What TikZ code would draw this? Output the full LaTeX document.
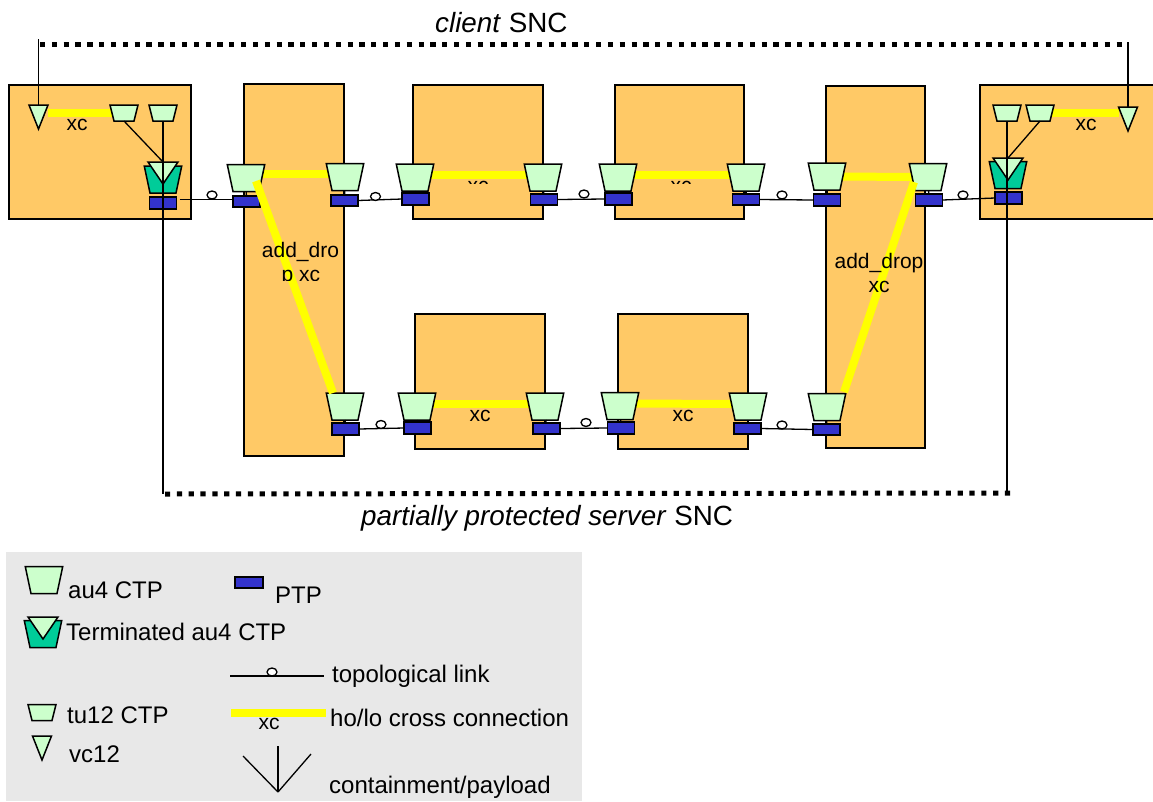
\documentclass[tikz,border=0pt]{standalone}
\usepackage{fontspec}
\setmainfont{Liberation Sans}
\usetikzlibrary{shapes.geometric}
\pgfdeclarelayer{boxes}
\pgfdeclarelayer{xcs}
\pgfsetlayers{boxes,xcs,main}
\definecolor{neorange}{HTML}{FFC966}
\definecolor{ctpgreen}{HTML}{CCFFCC}
\definecolor{termteal}{HTML}{00CC99}
\definecolor{ptpblue}{HTML}{3333CC}
\definecolor{xcyellow}{RGB}{255,255,0}
\definecolor{legendgrey}{HTML}{E8E8E8}
\tikzset{
    nebox/.style={draw, fill=neorange, line width=1.5pt, inner sep=0pt, outer sep=0pt},
    ctpshape/.style={draw, trapezium, shape border rotate=180, line width=1.5pt, outer sep=0pt},
    au4ctp/.style={ctpshape, fill=ctpgreen, trapezium left angle=78, trapezium right angle=78, inner xsep=13pt, inner ysep=13.5pt},
    termctp/.style={au4ctp, fill=termteal},
    tu12ctp/.style={ctpshape, fill=ctpgreen, trapezium left angle=76, trapezium right angle=76, inner xsep=10pt, inner ysep=8pt},
    vc12/.style={draw, fill=ctpgreen, isosceles triangle, shape border rotate=270, isosceles triangle stretches=true, anchor=apex, line width=1.5pt, inner sep=0pt, outer sep=0pt, minimum width=19pt, minimum height=24pt},
    termvc/.style={vc12, minimum width=30pt, minimum height=22pt},
    ptp/.style={draw, fill=ptpblue, line width=1.6pt, inner sep=0pt, outer sep=0pt, minimum width=27pt, minimum height=11.5pt},
    linkdot/.style={draw, fill=white, ellipse, line width=1.3pt, inner sep=0pt, minimum width=10pt, minimum height=8pt},
    toplink/.style={line width=1.3pt},
    contain/.style={line width=1.3pt},
    xcline/.style={xcyellow, line width=8pt},
    sncline/.style={line width=5pt, dash pattern=on 5.2pt off 6.63pt},
    boxtext/.style={font=\fontsize{21}{24}\selectfont, anchor=base, inner sep=0pt},
    legendtext/.style={font=\fontsize{24}{28}\selectfont, anchor=base west, inner sep=0pt},
    snctext/.style={font=\fontsize{27.8}{32}\selectfont, anchor=base west, inner sep=0pt},
}
\begin{document}
\begin{tikzpicture}[x=1pt, y=-1pt]
    \useasboundingbox (0,0) rectangle (1153,801);
    \begin{pgfonlayer}{boxes}
        \node[nebox, minimum width=182pt, minimum height=134pt] (neleft) at (100,152) {};
        \node[nebox, minimum width=100pt, minimum height=372pt] (adda) at (294,270) {};
        \node[nebox, minimum width=130pt, minimum height=134pt] (nebt) at (478,152) {};
        \node[nebox, minimum width=129pt, minimum height=134pt] (nect) at (679.5,152) {};
        \node[nebox, minimum width=99pt, minimum height=362pt] (addb) at (875.5,267) {};
        \node[nebox, minimum width=190pt, minimum height=134pt] (neright) at (1075,152) {};
        \node[nebox, minimum width=130pt, minimum height=135pt] (nebb) at (480,381.5) {};
        \node[nebox, minimum width=130pt, minimum height=135pt] (necb) at (683,381.5) {};
    \end{pgfonlayer}
    % left network element
    \node[vc12] (vcl) at (38.5,129) {};
    \node[tu12ctp] (tul) at (124,113) {};
    \node[tu12ctp] (tum) at (163,113) {};
    \node[termctp] (ctpl) at (163,179.5) {};
    \node[termvc] (vctl) at (163,184) {};
    \node[ptp] (ptpl) at (163,203) {};
    % right network element
    \node[vc12] (vcr) at (1128,131) {};
    \node[tu12ctp] (tur) at (1040,113) {};
    \node[tu12ctp] (tun) at (1007,113) {};
    \node[termctp] (ctpr) at (1008,175) {};
    \node[termvc] (vctr) at (1008,180) {};
    \node[ptp] (ptpr) at (1008.5,198) {};
    % upper row
    \node[au4ctp] (ctpa) at (246,178) {};
    \node[ptp] (ptpa) at (246.5,201.5) {};
    \node[au4ctp] (ctpb) at (345,177) {};
    \node[ptp] (ptpb) at (344.5,200.5) {};
    \node[au4ctp] (ctpc) at (415,177.5) {};
    \node[ptp] (ptpc) at (415.5,199) {};
    \node[au4ctp] (ctpd) at (543,177.5) {};
    \node[ptp] (ptpd) at (544,199.5) {};
    \node[au4ctp] (ctpe) at (618,177.5) {};
    \node[ptp] (ptpe) at (618.5,199) {};
    \node[au4ctp] (ctpf) at (746,177.5) {};
    \node[ptp] (ptpf) at (746,199.5) {};
    \node[au4ctp] (ctpg) at (827,176.5) {};
    \node[ptp] (ptph) at (827,200) {};
    \node[au4ctp] (ctpi) at (928,177) {};
    \node[ptp] (ptpi) at (929,200) {};
    % lower row
    \node[au4ctp] (ctpj) at (345,406.5) {};
    \node[ptp] (ptpj) at (345.5,429) {};
    \node[au4ctp] (ctpk) at (417,406.5) {};
    \node[ptp] (ptpk) at (417.5,428) {};
    \node[au4ctp] (ctpm) at (545,406.5) {};
    \node[ptp] (ptpm) at (546.5,428.5) {};
    \node[au4ctp] (ctpn) at (620,406) {};
    \node[ptp] (ptpn) at (621,428) {};
    \node[au4ctp] (ctpo) at (748,406.5) {};
    \node[ptp] (ptpo) at (747.5,428.5) {};
    \node[au4ctp] (ctpq) at (827,407) {};
    \node[ptp] (ptpq) at (826.5,429.5) {};
    % free ends
    \coordinate (clia) at (40,44);
    \coordinate (clib) at (1126,44);
    \coordinate (vtopl) at (38.5,39);
    \coordinate (vtopr) at (1128,42);
    \coordinate (srva) at (165,494);
    \coordinate (srvb) at (1010,493);
    \coordinate (dropa) at (256,181);
    \coordinate (dropb) at (333,393);
    \coordinate (dropc) at (914,182);
    \coordinate (dropd) at (844,392);
    % cross connections
    \begin{pgfonlayer}{xcs}
        \draw[xcline] (vcl.left corner |- tul.center) -- (tul.center);
        \draw[xcline] (tur.center) -- (vcr.right corner |- tur.center);
        \draw[xcline] ([yshift=4pt]ctpa.center) -- ([yshift=3pt]ctpb.center);
        \draw[xcline] ([yshift=2.5pt]ctpc.center) -- ([yshift=2.5pt]ctpd.center);
        \draw[xcline] ([yshift=2.5pt]ctpe.center) -- ([yshift=2.5pt]ctpf.center);
        \draw[xcline] (ctpg.center) -- (ctpi.center);
        \draw[xcline] ([yshift=2.5pt]ctpk.center) -- ([yshift=2.5pt]ctpm.center);
        \draw[xcline] ([yshift=2.5pt]ctpn.center) -- ([yshift=2.5pt]ctpo.center);
    \end{pgfonlayer}
    \draw[xcline] (dropa) -- (dropb);
    \draw[xcline] (dropc) -- (dropd);
    % topological links
    \draw[toplink, shorten <=3pt] ([yshift=3.5pt]ptpl.east) -- ([yshift=2pt]ptpa.west);
    \draw[toplink] (ptpb.east) -- (ptpc.west);
    \draw[toplink] (ptpd.east) -- (ptpe.west);
    \draw[toplink] (ptpf.east) -- (ptph.west);
    \draw[toplink] (ptpi.east) -- (ptpr.west);
    \draw[toplink] (ptpj.east) -- (ptpk.west);
    \draw[toplink] (ptpm.east) -- (ptpn.west);
    \draw[toplink] (ptpo.east) -- (ptpq.west);
    \node[linkdot] (dota) at (212,195) {};
    \node[linkdot] (dotb) at (375.5,196.5) {};
    \node[linkdot] (dotc) at (584,194) {};
    \node[linkdot] (dotd) at (782,195) {};
    \node[linkdot] (dote) at (963,195) {};
    \node[linkdot] (dotf) at (381,424.5) {};
    \node[linkdot] (dotg) at (586,422.5) {};
    \node[linkdot] (doth) at (782,425) {};
    % containment
    \draw[contain] (ctpa) -- (ptpa);
    \draw[contain] (ctpb) -- (ptpb);
    \draw[contain] (ctpc) -- (ptpc);
    \draw[contain] (ctpd) -- (ptpd);
    \draw[contain] (ctpe) -- (ptpe);
    \draw[contain] (ctpf) -- (ptpf);
    \draw[contain] (ctpg) -- (ptph);
    \draw[contain] (ctpi) -- (ptpi);
    \draw[contain] (ctpj) -- (ptpj);
    \draw[contain] (ctpk) -- (ptpk);
    \draw[contain] (ctpm) -- (ptpm);
    \draw[contain] (ctpn) -- (ptpn);
    \draw[contain] (ctpo) -- (ptpo);
    \draw[contain] (ctpq) -- (ptpq);
    \draw[contain] (tul.south) -- (vctl.left corner -| vctl.apex);
    \draw[contain] (tum.south) -- (tum.south |- srva);
    \draw[contain] (tun.south) -- (tun.south |- srvb);
    \draw[contain] (tur.south) -- (vctr.right corner -| vctr.apex);
    % client and server SNC
    \draw[contain] (vcl.lower side |- vcl.left corner) -- (vtopl);
    \draw[contain] (vcr.lower side |- vcr.left corner) -- (vtopr);
    \draw[sncline] (clia) -- (clib);
    \draw[sncline] (srva) -- (srvb);
    \node[snctext] (client) at (435,32) {\textit{client} SNC};
    \node[snctext] (server) at (361,525) {\textit{partially protected server} SNC};
    % xc labels, some of them cut off
    \node[boxtext] (xcl) at (77,130) {xc};
    \node[boxtext] (xcr) at (1086,130) {xc};
    \node[boxtext] (xcbb) at (480,421) {xc};
    \node[boxtext] (xccb) at (683,421) {xc};
    \begin{scope}
        \clip (414,176) rectangle (542,183.5);
        \node[boxtext] (xcbt) at (478,192) {xc};
    \end{scope}
    \begin{scope}
        \clip (616,176) rectangle (743,183.5);
        \node[boxtext] (xcct) at (681,192) {xc};
    \end{scope}
    \node[boxtext] (addlabela) at (300.5,257) {add\_dro};
    \begin{scope}
        \clip (250,260) rectangle (340,280);
        \node[boxtext] (addlabelb) at (301,281) {p xc};
    \end{scope}
    \node[boxtext] (addlabelc) at (879,268) {add\_drop};
    \node[boxtext] (addlabeld) at (879,292) {xc};
    % legend
    \fill[legendgrey] (6,552) rectangle (582,801);
    \node[au4ctp] (keyau) at (44,580) {};
    \node[legendtext] (keyautext) at (68,598) {au4 CTP};
    \node[ptp, minimum width=28pt] (keyptp) at (249,582.5) {};
    \node[legendtext] (keyptptext) at (275,603) {PTP};
    \node[termctp] (keyterm) at (43,634) {};
    \node[termvc] (keytermvc) at (43,639) {};
    \node[legendtext] (keytermtext) at (66,640) {Terminated au4 CTP};
    \node[tu12ctp] (keytu) at (42,712.5) {};
    \node[legendtext] (keytutext) at (67,723) {tu12 CTP};
    \node[vc12] (keyvc) at (42,760) {};
    \node[legendtext] (keyvctext) at (69,762) {vc12};
    \coordinate (keylinka) at (230,676);
    \coordinate (keylinkb) at (324,676);
    \draw[toplink] (keylinka) -- (keylinkb);
    \node[linkdot] (keydot) at (272,672) {};
    \node[legendtext] (keylinktext) at (332,682) {topological link};
    \coordinate (keyxca) at (231,713);
    \coordinate (keyxcb) at (326,713);
    \draw[xcline] (keyxca) -- (keyxcb);
    \node[boxtext] (keyxclabel) at (269,729) {xc};
    \node[legendtext] (keyxctext) at (330,726) {ho/lo cross connection};
    \coordinate (keyapex) at (278,792);
    \coordinate (keyca) at (243,756);
    \coordinate (keycb) at (278,746);
    \coordinate (keycc) at (311,754);
    \draw[contain] (keyca) -- (keyapex);
    \draw[contain] (keycb) -- (keyapex);
    \draw[contain] (keycc) -- (keyapex);
    \node[legendtext] (keycontext) at (329,793) {containment/payload};
\end{tikzpicture}
\end{document}
